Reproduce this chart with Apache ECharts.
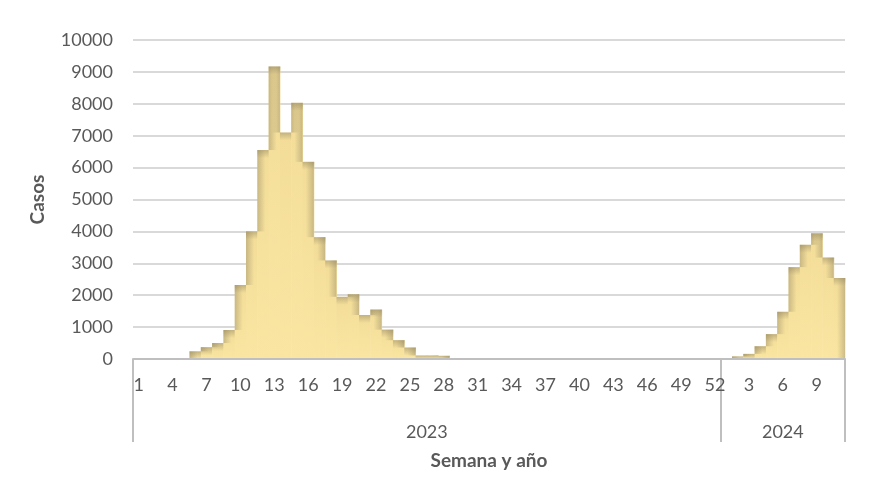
<!DOCTYPE html>
<html>
<head>
<meta charset="utf-8">
<script src="https://cdn.jsdelivr.net/npm/echarts@6/dist/echarts.min.js"></script>
<style>
html,body{margin:0;padding:0;background:#fff;}
#chart{width:873px;height:496px;}
</style>
</head>
<body>
<div id="chart"></div>
<script>
// Week labels (2023 weeks 1-52, 2024 weeks 1-11)
const weeks2023 = [1,2,3,4,5,6,7,8,9,10,11,12,13,14,15,16,17,18,19,20,21,22,23,24,25,26,27,28,29,30,31,32,33,34,35,36,37,38,39,40,41,42,43,44,45,46,47,48,49,50,51,52];
const weeks2024 = [1,2,3,4,5,6,7,8,9,10,11];
const cases2023 = [0,0,0,10,30,240,370,500,910,2320,4000,6550,9170,7100,8030,6180,3820,3090,1950,2030,1380,1550,920,590,360,110,110,100,0,0,0,0,0,0,0,0,0,0,0,0,0,0,0,0,0,0,0,0,0,0,0,0];
const cases2024 = [20,80,160,400,780,1480,2880,3580,3940,3180,2540];
const years = ['2023','2024'];
const yTicks = [0,1000,2000,3000,4000,5000,6000,7000,8000,9000,10000];

const categories = weeks2023.map(String).concat(weeks2024.map(String));
const values = cases2023.concat(cases2024);
const n = categories.length;

const FONT = 'Lato';
const TXT = '#595959';
const SHADE = 'rgba(130,120,90,';
const BAND = 8;

function grad(x, y, x2, y2, a) {
  return new echarts.graphic.LinearGradient(x, y, x2, y2, [
    {offset: 0, color: SHADE + a + ')'},
    {offset: 1, color: SHADE + '0)'}
  ]);
}

function renderItem(params, api) {
  const i = api.value(0);
  const v = api.value(1);
  const base = api.coord([i, 0]);
  const top = api.coord([i, v]);
  const w = api.size([1, 0])[0];
  const x = base[0] - w / 2;
  const h = base[1] - top[1];
  if (h <= 0) return null;
  const children = [{
    type: 'rect',
    shape: {x: x, y: top[1], width: w + 0.5, height: h},
    style: {fill: new echarts.graphic.LinearGradient(0, 0, 0, 1, [
      {offset: 0, color: '#F2DC98'}, {offset: 1, color: '#FAE6A2'}])}
  }];
  const tb = Math.min(BAND, h);
  children.push({type: 'rect', shape: {x: x, y: top[1], width: w + 0.5, height: tb},
    style: {fill: grad(0, 0, 0, 1, 0.42)}});
  const prev = i > 0 ? values[i - 1] : 0;
  const next = i < n - 1 ? values[i + 1] : 0;
  if (prev < v) {
    const py = api.coord([i, prev])[1];
    children.push({type: 'rect', shape: {x: x, y: top[1], width: BAND, height: py - top[1]},
      style: {fill: grad(0, 0, 1, 0, 0.38)}});
  }
  if (next < v) {
    const ny = api.coord([i, next])[1];
    children.push({type: 'rect', shape: {x: x + w - BAND, y: top[1], width: BAND, height: ny - top[1]},
      style: {fill: grad(1, 0, 0, 0, 0.38)}});
  }
  return {type: 'group', children: children};
}

const chart = echarts.init(document.getElementById('chart'), null, {renderer: 'canvas'});
chart.setOption({
  animation: false,
  backgroundColor: '#fff',
  textStyle: {fontFamily: FONT},
  grid: {left: 133, right: 28, top: 40, bottom: 137, containLabel: false},
  xAxis: [{
    type: 'category',
    data: categories,
    boundaryGap: true,
    axisLine: {show: true, lineStyle: {color: '#BFBFBF', width: 2}},
    axisTick: {show: false},
    axisLabel: {interval: 2, color: TXT, fontSize: 18, fontFamily: FONT, margin: 17},
    name: 'Semana y año',
    nameLocation: 'middle',
    nameGap: 92,
    nameTextStyle: {color: TXT, fontSize: 19, fontWeight: 'bold', fontFamily: FONT},
    z: 5
  }, {
    type: 'value',
    min: 0,
    max: n,
    position: 'bottom',
    axisLine: {show: false},
    splitLine: {show: false},
    axisTick: {show: true, customValues: [0, weeks2023.length, n], length: 83,
      lineStyle: {color: '#BFBFBF', width: 2}},
    axisLabel: {customValues: [weeks2023.length / 2, weeks2023.length + weeks2024.length / 2],
      formatter: function (v) { return v < weeks2023.length ? years[0] : years[1]; },
      color: TXT, fontSize: 18, fontFamily: FONT, margin: 64}
  }],
  yAxis: {
    type: 'value',
    min: yTicks[0],
    max: yTicks[yTicks.length - 1],
    interval: 1000,
    axisLine: {show: false},
    axisTick: {show: false},
    axisLabel: {color: TXT, fontSize: 18, fontFamily: FONT, margin: 20,
      formatter: function (v) { return String(v); }},
    splitLine: {lineStyle: {color: '#D9D9D9', width: 2}},
    name: 'Casos',
    nameLocation: 'middle',
    nameGap: 86,
    nameRotate: 90,
    nameTextStyle: {color: TXT, fontSize: 19, fontWeight: 'bold', fontFamily: FONT}
  },
  series: [{
    type: 'custom',
    xAxisIndex: 0,
    yAxisIndex: 0,
    renderItem: renderItem,
    encode: {x: 0, y: 1},
    data: values.map(function (v, i) { return [i, v]; }),
    z: 2
  }]
});
</script>
</body>
</html>
